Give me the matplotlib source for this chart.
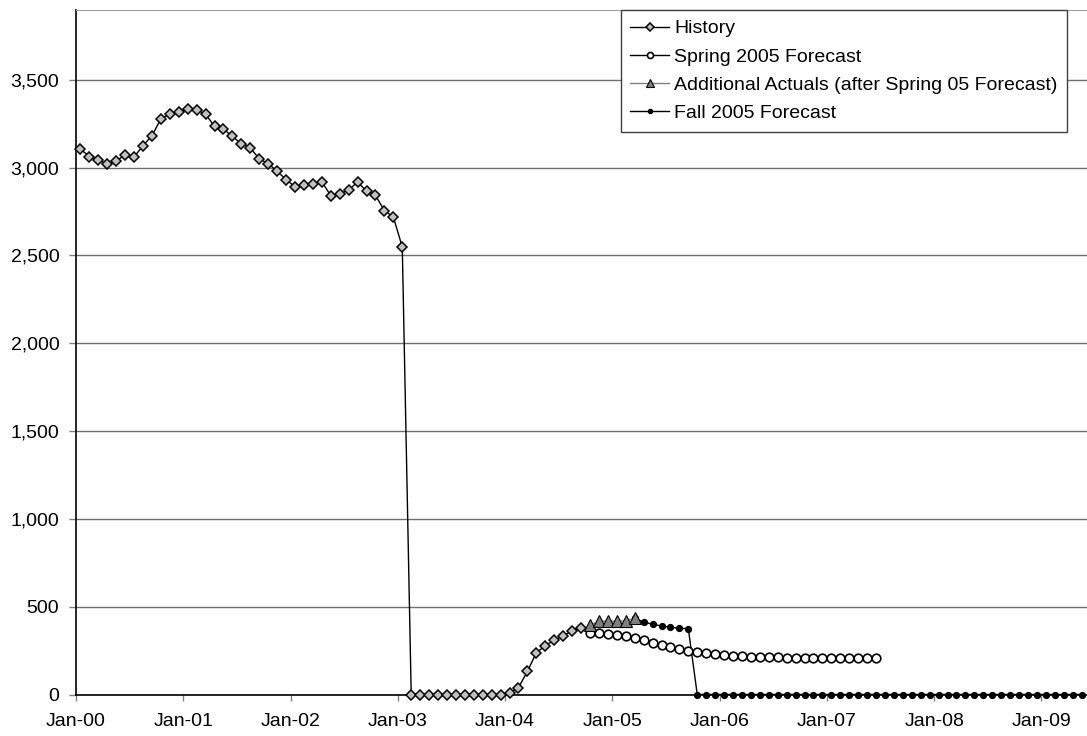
import numpy as np
import matplotlib.pyplot as plt
import matplotlib.transforms as mtransforms
from matplotlib.ticker import FuncFormatter

plt.rcParams['font.family'] = ['Liberation Sans', 'DejaVu Sans']

# monthly index, 0 = Jan-2000
history_start = 0
history = [3105, 3063, 3042, 3021, 3040, 3070, 3061, 3125, 3182, 3277, 3306, 3317,
           3336, 3329, 3304, 3234, 3220, 3177, 3135, 3112, 3050, 3023, 2979, 2932,
           2890, 2899, 2905, 2920, 2840, 2852, 2871, 2919, 2865, 2842, 2755, 2719,
           2548, 0, 0, 0, 0, 0, 0, 0, 0, 0, 0, 0,
           10, 39, 132, 238, 278, 309, 334, 363, 381]

spring_start = 57
spring = [352, 352, 346, 341, 332, 324, 309, 295, 280, 269, 259, 250,
          242, 235, 229, 225, 221, 218, 215, 214, 212, 211, 210, 210,
          209, 209, 209, 208, 208, 208, 208, 208, 208]

actuals_start = 57
actuals = [394, 417, 417, 417, 420, 434]

fall_start = 62
fall = [434, 413, 400, 390, 383, 377, 375] + [0] * 44

year_labels = ['Jan-00', 'Jan-01', 'Jan-02', 'Jan-03', 'Jan-04',
               'Jan-05', 'Jan-06', 'Jan-07', 'Jan-08', 'Jan-09']


def months(start, values):
    return np.arange(start, start + len(values))


fig = plt.figure(figsize=(10.87, 7.36), dpi=100)
ax = fig.add_axes([76 / 1087, 41.5 / 736, 1011 / 1087, 685 / 736])

ax.plot(months(history_start, history), history, color='black', lw=1.0,
        marker='D', ms=5.4, mfc='#c0c0c0', mec='black', mew=1.1,
        label='History', zorder=4, clip_on=False)
ax.plot(months(spring_start, spring), spring, color='black', lw=1.0,
        marker='o', ms=6.2, mfc='white', mec='black', mew=1.2,
        label='Spring 2005 Forecast', zorder=3)
ax.plot(months(actuals_start, actuals), actuals, color='#808080', lw=1.0,
        marker='^', ms=8.5, mfc='#808080', mec='black', mew=0.8,
        label='Additional Actuals (after Spring 05 Forecast)', zorder=5)
ax.plot(months(fall_start, fall), fall, color='black', lw=1.0,
        marker='o', ms=4.2, mfc='black', mec='black',
        label='Fall 2005 Forecast', zorder=2, clip_on=False)

ax.set_xlim(-0.5, 112.6)
ax.set_ylim(0, 3900)

ax.set_xticks(np.arange(len(year_labels)) * 12 - 0.5)
ax.set_xticklabels(year_labels)
# year labels sit a little right of their tick marks
shift = mtransforms.ScaledTranslation(0.04, 0, fig.dpi_scale_trans)
for lbl in ax.get_xticklabels():
    lbl.set_transform(lbl.get_transform() + shift)
ax.set_yticks(np.arange(0, 3501, 500))
ax.yaxis.set_major_formatter(FuncFormatter(lambda v, p: f'{int(v):,}'))

ax.grid(axis='y', color='#707070', lw=1.0)
ax.set_axisbelow(True)
ax.tick_params(axis='x', direction='out', length=4, width=1, color='#808080',
               labelsize=14, pad=9)
ax.tick_params(axis='y', direction='out', length=5, width=1, color='#808080',
               labelsize=14, pad=7)

ax.spines['left'].set_color('black')
ax.spines['bottom'].set_color('black')
ax.spines['left'].set_linewidth(1.2)
ax.spines['bottom'].set_linewidth(1.2)
ax.spines['top'].set_color('#a0a0a0')
ax.spines['right'].set_visible(False)

leg = ax.legend(loc='upper left', bbox_to_anchor=(620.7 / 1087, 1 - 10 / 736),
                bbox_transform=fig.transFigure, borderaxespad=0,
                fontsize=14, frameon=True, fancybox=False, edgecolor='#404040',
                framealpha=1, handlelength=2.0, handletextpad=0.25,
                labelspacing=0.55, borderpad=0.5, markerscale=0.7)
leg.get_frame().set_linewidth(1.0)
leg.set_zorder(10)

fig.savefig('out.png', dpi=100)
